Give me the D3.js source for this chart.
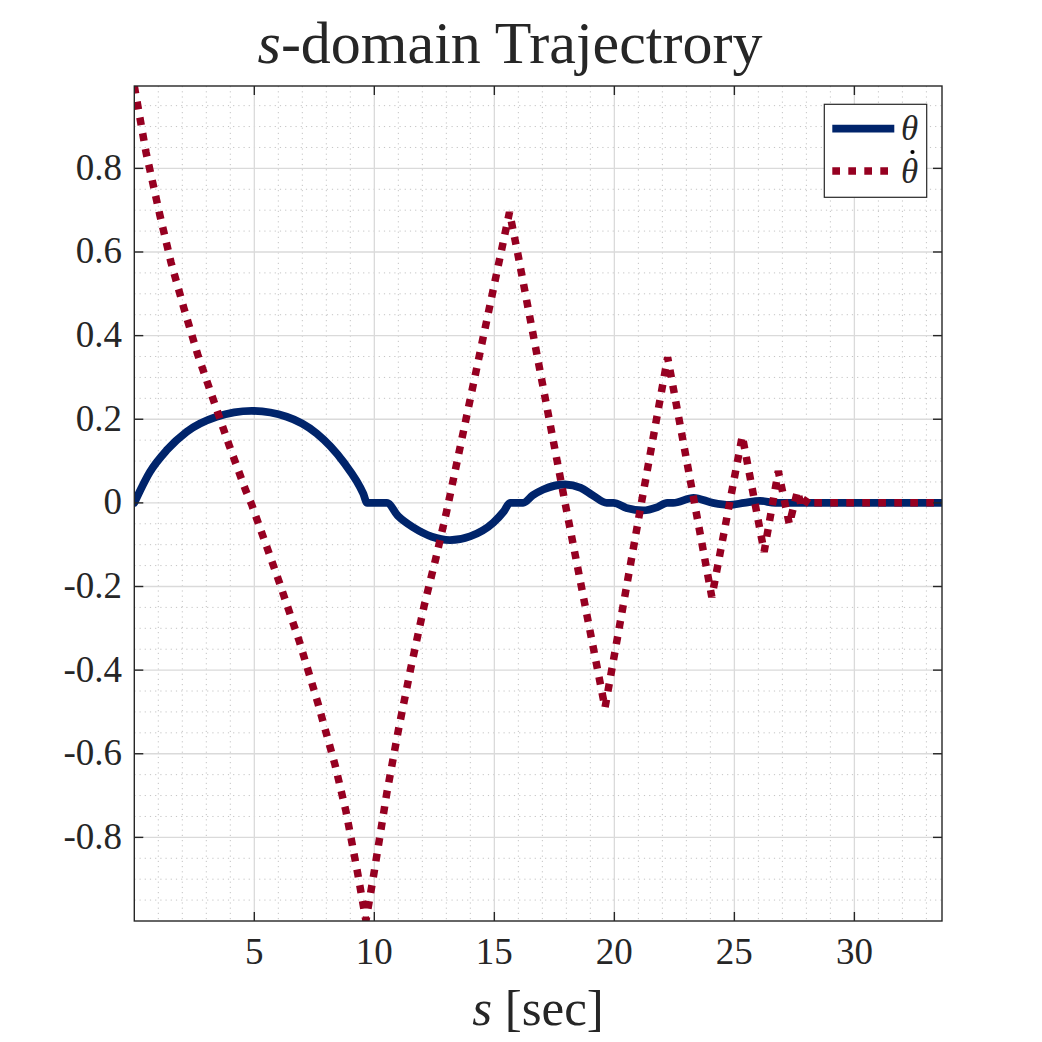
<!DOCTYPE html>
<html>
<head>
<meta charset="utf-8">
<script src="https://cdn.jsdelivr.net/npm/d3@7"></script>
<style>
  html, body { margin: 0; padding: 0; background: #fff; }
  text { font-family: "Liberation Serif", "DejaVu Serif", serif; fill: #262626; }
</style>
</head>
<body>
<div id="chart"></div>
<script>
// theta (s, value)
const thetaS = [0, 0.65, 1.35, 2.18, 3.43, 4.89, 6.35, 7.6, 8.71, 9.54, 9.7, 10.52, 11.0, 11.63, 12.4, 13.15, 13.99, 14.96, 15.4, 15.65,
    16.2, 16.6, 17.04, 17.95, 18.6, 19.1, 19.68, 19.96, 20.5, 21.2, 21.8, 22.2, 22.45, 23.3, 24.1, 24.8, 25.4, 26.07, 26.7, 33.65];
const thetaV = [0, 0.074, 0.126, 0.170, 0.206, 0.220, 0.206, 0.166, 0.098, 0.022, 0, 0, -0.032, -0.059, -0.081, -0.089, -0.080, -0.047, -0.020, 0,
    0, 0.018, 0.032, 0.044, 0.036, 0.018, 0, 0, -0.012, -0.018, -0.010, 0, 0, 0.012, 0, -0.005, 0, 0.005, 0, 0];

// theta dot
const thetaDotS = [0, 0.49, 1.07, 1.53, 2.07, 2.64, 3.29, 3.95, 4.64, 4.89, 6.0, 6.875, 7.64, 8.36, 8.82, 9.31, 9.65,
    9.99, 10.52, 11.0, 11.52, 12.08, 12.56, 13.01, 15.63, 15.96, 17.95, 19.61, 21.14, 22.22,
    24.06, 25.33, 26.24, 26.83, 27.29, 27.63, 27.81, 28.08, 28.3, 33.65];
const thetaDotV = [0.997, 0.838, 0.687, 0.575, 0.465, 0.355, 0.247, 0.138, 0.030, -0.004, -0.183, -0.331, -0.477, -0.626, -0.738, -0.887, -0.999,
    -0.884, -0.694, -0.544, -0.395, -0.245, -0.133, -0.021, 0.695, 0.601, -0.001, -0.490, 0.004, 0.348,
    -0.225, 0.160, -0.117, 0.076, -0.051, 0.028, -0.012, 0.012, 0, 0];

const xTicks = [5, 10, 15, 20, 25, 30];
const yTicks = [-0.8, -0.6, -0.4, -0.2, 0, 0.2, 0.4, 0.6, 0.8];
const yTickLabels = ["-0.8", "-0.6", "-0.4", "-0.2", "0", "0.2", "0.4", "0.6", "0.8"];

const width = 1042, height = 1042;
const plotLeft = 134.3, plotRight = 942, plotTop = 86, plotBottom = 921;
const ThetaColor = "#00246b";
const ThetaDotColor = "#960021";
const AxisColor = "#262626";

const x = d3.scaleLinear().domain([0, 33.65]).range([plotLeft, plotRight]);
const y = d3.scaleLinear().domain([-1.0, 0.997]).range([plotBottom, plotTop]);

const svg = d3.select("#chart").append("svg")
    .attr("width", width)
    .attr("height", height);

svg.append("defs").append("clipPath").attr("id", "plotClip")
    .append("rect")
    .attr("x", plotLeft).attr("y", plotTop)
    .attr("width", plotRight - plotLeft).attr("height", plotBottom - plotTop);

// minor grid
const minorX = d3.range(1, 34).filter(v => v % 5 !== 0);
const minorY = d3.range(-19, 20).map(i => i * 0.05).filter(v => Math.abs(Math.round(v * 100) % 20) !== 0);
const grid = svg.append("g");
grid.selectAll(".minorX").data(minorX).join("line")
    .attr("x1", d => x(d)).attr("x2", d => x(d))
    .attr("y1", plotTop).attr("y2", plotBottom)
    .attr("stroke", "#c4c4c4").attr("stroke-width", 1)
    .attr("stroke-dasharray", "1.2,4");
grid.selectAll(".minorY").data(minorY).join("line")
    .attr("y1", d => y(d)).attr("y2", d => y(d))
    .attr("x1", plotLeft).attr("x2", plotRight)
    .attr("stroke", "#c4c4c4").attr("stroke-width", 1)
    .attr("stroke-dasharray", "1.2,4");

// major grid
grid.selectAll(".majorX").data(xTicks).join("line")
    .attr("x1", d => x(d)).attr("x2", d => x(d))
    .attr("y1", plotTop).attr("y2", plotBottom)
    .attr("stroke", "#dadada").attr("stroke-width", 1.3);
grid.selectAll(".majorY").data(yTicks).join("line")
    .attr("y1", d => y(d)).attr("y2", d => y(d))
    .attr("x1", plotLeft).attr("x2", plotRight)
    .attr("stroke", "#dadada").attr("stroke-width", 1.3);

// lines
const plot = svg.append("g").attr("clip-path", "url(#plotClip)");

const smoothLine = d3.line().x(d => x(d[0])).y(d => y(d[1])).curve(d3.curveMonotoneX);
plot.append("path")
    .datum(thetaS.map((s, i) => [s, thetaV[i]]))
    .attr("d", smoothLine)
    .attr("fill", "none")
    .attr("stroke", ThetaColor)
    .attr("stroke-width", 7.8)
    .attr("stroke-linejoin", "round")
    .attr("stroke-linecap", "round");

const line = d3.line().x(d => x(d[0])).y(d => y(d[1]));
plot.append("path")
    .datum(thetaDotS.map((s, i) => [s, thetaDotV[i]]))
    .attr("d", line)
    .attr("fill", "none")
    .attr("stroke", ThetaDotColor)
    .attr("stroke-width", 7.5)
    .attr("stroke-dasharray", "7.7,8.3")
    .attr("stroke-linejoin", "miter");

// box and ticks
svg.append("rect")
    .attr("x", plotLeft).attr("y", plotTop)
    .attr("width", plotRight - plotLeft).attr("height", plotBottom - plotTop)
    .attr("fill", "none").attr("stroke", AxisColor).attr("stroke-width", 1.4);

const ticks = svg.append("g").attr("stroke", AxisColor).attr("stroke-width", 1.4);
xTicks.forEach(t => {
    ticks.append("line").attr("x1", x(t)).attr("x2", x(t)).attr("y1", plotBottom).attr("y2", plotBottom - 9);
    ticks.append("line").attr("x1", x(t)).attr("x2", x(t)).attr("y1", plotTop).attr("y2", plotTop + 9);
});
yTicks.forEach(t => {
    ticks.append("line").attr("y1", y(t)).attr("y2", y(t)).attr("x1", plotLeft).attr("x2", plotLeft + 9);
    ticks.append("line").attr("y1", y(t)).attr("y2", y(t)).attr("x1", plotRight).attr("x2", plotRight - 9);
});

// tick labels
svg.append("g").selectAll("text").data(xTicks).join("text")
    .attr("x", d => x(d)).attr("y", 964)
    .attr("text-anchor", "middle")
    .attr("font-size", 37)
    .text(d => d);

svg.append("g").selectAll("text").data(yTicks).join("text")
    .attr("x", 122).attr("y", d => y(d) + 11.5)
    .attr("text-anchor", "end")
    .attr("font-size", 37)
    .text((d, i) => yTickLabels[i]);

// title
const title = svg.append("text")
    .attr("x", 510).attr("y", 63)
    .attr("text-anchor", "middle")
    .attr("font-size", 60)
    .attr("fill", "#000");
title.append("tspan").attr("font-style", "italic").text("s");
title.append("tspan").text("-domain Trajectrory");

// x label
const xlabel = svg.append("text")
    .attr("x", 538).attr("y", 1025)
    .attr("text-anchor", "middle")
    .attr("font-size", 51);
xlabel.append("tspan").attr("font-style", "italic").text("s");
xlabel.append("tspan").text(" [sec]");

// legend
const legend = svg.append("g");
legend.append("rect")
    .attr("x", 824.3).attr("y", 104.3)
    .attr("width", 102.4).attr("height", 93)
    .attr("fill", "#fff").attr("stroke", AxisColor).attr("stroke-width", 1.2);
legend.append("line")
    .attr("x1", 832.3).attr("x2", 894.3).attr("y1", 128.7).attr("y2", 128.7)
    .attr("stroke", ThetaColor).attr("stroke-width", 7.8);
legend.append("line")
    .attr("x1", 832.3).attr("x2", 894.3).attr("y1", 171).attr("y2", 171)
    .attr("stroke", ThetaDotColor).attr("stroke-width", 7.5)
    .attr("stroke-dasharray", "7.7,8.3");
legend.append("text")
    .attr("x", 901).attr("y", 140)
    .attr("font-size", 35).attr("font-style", "italic").attr("fill", "#000")
    .text("θ");
legend.append("text")
    .attr("x", 901).attr("y", 183)
    .attr("font-size", 35).attr("font-style", "italic").attr("fill", "#000")
    .text("θ");
// dot accent above the second theta
legend.append("circle")
    .attr("cx", 912.5).attr("cy", 152)
    .attr("r", 2.1)
    .attr("fill", "#000");
</script>
</body>
</html>
